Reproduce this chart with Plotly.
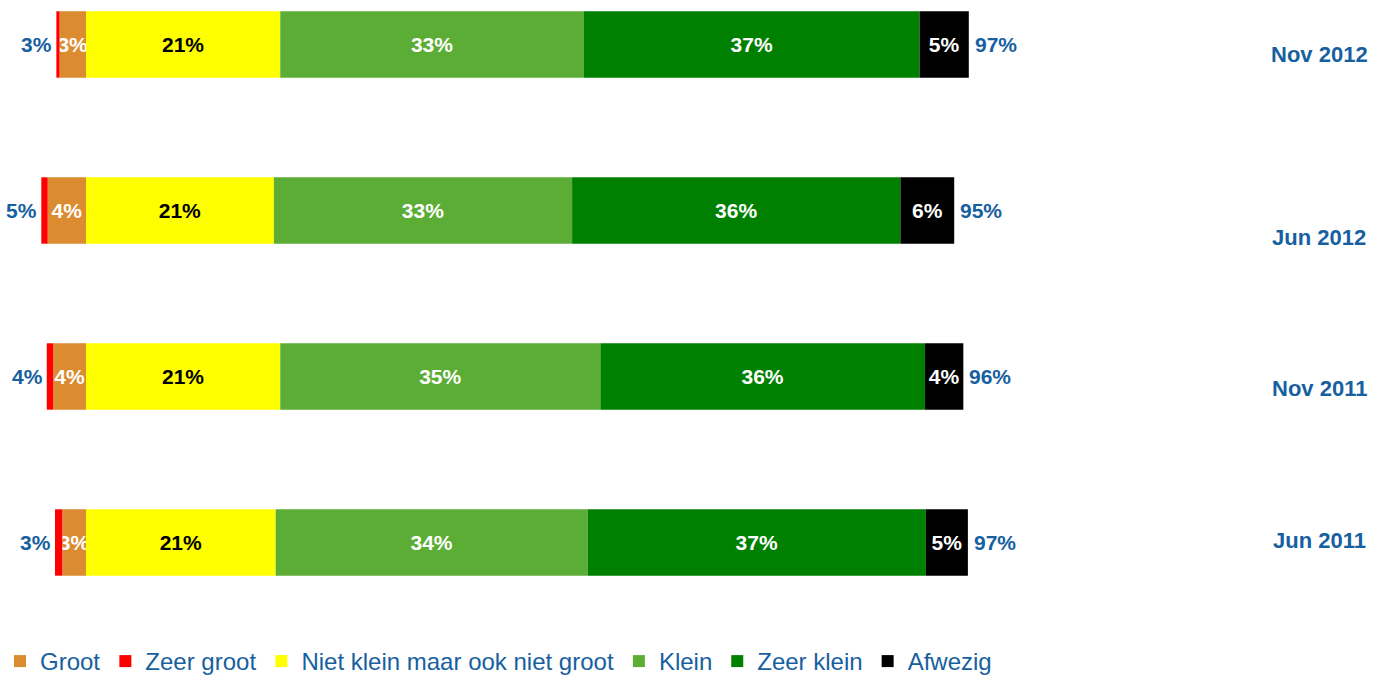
import plotly.graph_objects as go

## Data

periods = ['Nov 2012', 'Jun 2012', 'Nov 2011', 'Jun 2011']
groot = [2.9, 4.2, 3.6, 2.6]
zeer_groot = [0.35, 0.7, 0.7, 0.8]
niet_klein_niet_groot = [21.3, 20.6, 21.3, 20.8]
klein = [33.3, 32.7, 35.1, 34.2]
zeer_klein = [36.8, 36.0, 35.6, 37.1]
afwezig = [5.4, 5.9, 4.2, 4.6]

BLUE = '#17609F'
FONT = 'Liberation Sans, Arial, sans-serif'

def pct(vals):
    return [f'{v:.0f}%' for v in vals]

## Figure

fig = go.Figure()

left = [
    ('Groot', groot, '#DB8B30', 'white', True),
    ('Zeer groot', zeer_groot, '#FF0000', 'white', False),
]
right = [
    ('Niet klein maar ook niet groot', niet_klein_niet_groot, '#FFFF00', 'black', True),
    ('Klein', klein, '#5BAD35', 'white', True),
    ('Zeer klein', zeer_klein, '#008000', 'white', True),
    ('Afwezig', afwezig, '#000000', 'white', True),
]

for name, vals, color, tcolor, labelled in left:
    fig.add_trace(go.Bar(
        y=periods, x=[-v for v in vals], name=name, orientation='h',
        marker=dict(color=color, line=dict(width=0)),
        text=pct(vals) if labelled else None,
        textposition='inside' if labelled else 'none',
        insidetextanchor='middle', textangle=0, constraintext='none',
        insidetextfont=dict(color=tcolor, size=21, family=FONT, weight='bold'),
        width=0.4,
    ))

for name, vals, color, tcolor, labelled in right:
    fig.add_trace(go.Bar(
        y=periods, x=vals, name=name, orientation='h',
        marker=dict(color=color, line=dict(width=0)),
        text=pct(vals),
        textposition='inside',
        insidetextanchor='middle', textangle=0, constraintext='none',
        insidetextfont=dict(color=tcolor, size=21, family=FONT, weight='bold'),
        width=0.4,
    ))

# totals either side
left_total = [g + z for g, z in zip(groot, zeer_groot)]
right_total = [a + b + c + d for a, b, c, d in zip(niet_klein_niet_groot, klein, zeer_klein, afwezig)]

tot_font = dict(color=BLUE, size=21, family=FONT, weight='bold')
for p, v, t in zip(periods, left_total, pct(left_total)):
    fig.add_annotation(x=-v, y=p, text=t, showarrow=False, xanchor='right',
                       xshift=-2, font=tot_font)
for p, v, t in zip(periods, right_total, pct(right_total)):
    fig.add_annotation(x=v, y=p, text=t, showarrow=False, xanchor='left',
                       xshift=4, font=tot_font)

# period labels on the right
label_shift = [-10, -27, -12, 2]
for p, dy in zip(periods, label_shift):
    fig.add_annotation(
        x=0.958, xref='paper', y=p, yref='y', text=p, showarrow=False,
        xanchor='center', yshift=dy,
        font=dict(color=BLUE, size=22, family=FONT, weight='bold'),
    )

fig.update_xaxes(range=[-9.43, 141.56], visible=False, fixedrange=True)
fig.update_yaxes(categoryorder='array', categoryarray=periods,
                 range=[3.467, -0.268], visible=False, fixedrange=True)

fig.update_layout(
    barmode='relative',
    width=1377, height=684,
    margin=dict(l=0, r=0, t=0, b=64),
    plot_bgcolor='white', paper_bgcolor='white',
    font=dict(family=FONT, color=BLUE),
    legend=dict(orientation='h', x=0, xanchor='left', y=-64/620, yanchor='bottom',
                font=dict(size=24, color=BLUE, family=FONT), traceorder='normal'),
)

fig.write_html('out.html', config={'displayModeBar': False},
               post_script="document.body.style.margin='0';")
